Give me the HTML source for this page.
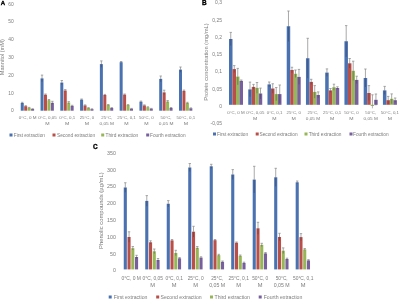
<!DOCTYPE html>
<html><head><meta charset="utf-8"><style>
html,body{margin:0;padding:0;background:#fff;width:400px;height:299px;overflow:hidden}
svg{display:block;filter:blur(0.3px)}
text{font-family:"Liberation Sans", sans-serif}
</style></head><body>
<svg width="400" height="299" viewBox="0 0 400 299">
<rect width="400" height="299" fill="#fff"/>
<rect x="20.75" y="103.00" width="3.00" height="7.70" fill="#4A71B0"/>
<rect x="24.20" y="106.20" width="3.00" height="4.50" fill="#BA4F4A"/>
<rect x="27.65" y="107.80" width="3.00" height="2.90" fill="#97B657"/>
<rect x="31.10" y="109.00" width="3.00" height="1.70" fill="#78609E"/>
<line x1="22.25" y1="103.00" x2="22.25" y2="102.30" stroke="#939393" stroke-width="0.8" stroke-opacity="1"/>
<line x1="22.25" y1="103.70" x2="22.25" y2="103.00" stroke="#303040" stroke-width="0.8" stroke-opacity="0.45"/>
<line x1="21.05" y1="102.30" x2="23.45" y2="102.30" stroke="#939393" stroke-width="0.8" stroke-opacity="1"/>
<line x1="25.70" y1="106.20" x2="25.70" y2="105.70" stroke="#939393" stroke-width="0.8" stroke-opacity="1"/>
<line x1="25.70" y1="106.70" x2="25.70" y2="106.20" stroke="#303040" stroke-width="0.8" stroke-opacity="0.45"/>
<line x1="24.50" y1="105.70" x2="26.90" y2="105.70" stroke="#939393" stroke-width="0.8" stroke-opacity="1"/>
<line x1="29.15" y1="107.80" x2="29.15" y2="107.40" stroke="#939393" stroke-width="0.8" stroke-opacity="1"/>
<line x1="29.15" y1="108.20" x2="29.15" y2="107.80" stroke="#303040" stroke-width="0.8" stroke-opacity="0.45"/>
<line x1="27.95" y1="107.40" x2="30.35" y2="107.40" stroke="#939393" stroke-width="0.8" stroke-opacity="1"/>
<line x1="32.60" y1="109.00" x2="32.60" y2="108.70" stroke="#939393" stroke-width="0.8" stroke-opacity="1"/>
<line x1="32.60" y1="109.30" x2="32.60" y2="109.00" stroke="#303040" stroke-width="0.8" stroke-opacity="0.45"/>
<line x1="31.40" y1="108.70" x2="33.80" y2="108.70" stroke="#939393" stroke-width="0.8" stroke-opacity="1"/>
<rect x="40.53" y="78.40" width="3.00" height="32.30" fill="#4A71B0"/>
<rect x="43.98" y="94.70" width="3.00" height="16.00" fill="#BA4F4A"/>
<rect x="47.43" y="100.25" width="3.00" height="10.45" fill="#97B657"/>
<rect x="50.88" y="102.80" width="3.00" height="7.90" fill="#78609E"/>
<line x1="42.03" y1="78.40" x2="42.03" y2="75.10" stroke="#939393" stroke-width="0.8" stroke-opacity="1"/>
<line x1="42.03" y1="81.70" x2="42.03" y2="78.40" stroke="#303040" stroke-width="0.8" stroke-opacity="0.45"/>
<line x1="40.83" y1="75.10" x2="43.23" y2="75.10" stroke="#939393" stroke-width="0.8" stroke-opacity="1"/>
<line x1="45.48" y1="94.70" x2="45.48" y2="94.00" stroke="#939393" stroke-width="0.8" stroke-opacity="1"/>
<line x1="45.48" y1="95.40" x2="45.48" y2="94.70" stroke="#303040" stroke-width="0.8" stroke-opacity="0.45"/>
<line x1="44.28" y1="94.00" x2="46.68" y2="94.00" stroke="#939393" stroke-width="0.8" stroke-opacity="1"/>
<line x1="48.93" y1="100.25" x2="48.93" y2="99.50" stroke="#939393" stroke-width="0.8" stroke-opacity="1"/>
<line x1="48.93" y1="101.00" x2="48.93" y2="100.25" stroke="#303040" stroke-width="0.8" stroke-opacity="0.45"/>
<line x1="47.73" y1="99.50" x2="50.13" y2="99.50" stroke="#939393" stroke-width="0.8" stroke-opacity="1"/>
<line x1="52.38" y1="102.80" x2="52.38" y2="101.30" stroke="#939393" stroke-width="0.8" stroke-opacity="1"/>
<line x1="52.38" y1="104.30" x2="52.38" y2="102.80" stroke="#303040" stroke-width="0.8" stroke-opacity="0.45"/>
<line x1="51.18" y1="101.30" x2="53.58" y2="101.30" stroke="#939393" stroke-width="0.8" stroke-opacity="1"/>
<rect x="60.31" y="82.60" width="3.00" height="28.10" fill="#4A71B0"/>
<rect x="63.76" y="90.50" width="3.00" height="20.20" fill="#BA4F4A"/>
<rect x="67.21" y="102.60" width="3.00" height="8.10" fill="#97B657"/>
<rect x="70.66" y="105.90" width="3.00" height="4.80" fill="#78609E"/>
<line x1="61.81" y1="82.60" x2="61.81" y2="80.50" stroke="#939393" stroke-width="0.8" stroke-opacity="1"/>
<line x1="61.81" y1="84.70" x2="61.81" y2="82.60" stroke="#303040" stroke-width="0.8" stroke-opacity="0.45"/>
<line x1="60.61" y1="80.50" x2="63.01" y2="80.50" stroke="#939393" stroke-width="0.8" stroke-opacity="1"/>
<line x1="65.26" y1="90.50" x2="65.26" y2="89.60" stroke="#939393" stroke-width="0.8" stroke-opacity="1"/>
<line x1="65.26" y1="91.40" x2="65.26" y2="90.50" stroke="#303040" stroke-width="0.8" stroke-opacity="0.45"/>
<line x1="64.06" y1="89.60" x2="66.46" y2="89.60" stroke="#939393" stroke-width="0.8" stroke-opacity="1"/>
<line x1="68.71" y1="102.60" x2="68.71" y2="101.60" stroke="#939393" stroke-width="0.8" stroke-opacity="1"/>
<line x1="68.71" y1="103.60" x2="68.71" y2="102.60" stroke="#303040" stroke-width="0.8" stroke-opacity="0.45"/>
<line x1="67.51" y1="101.60" x2="69.91" y2="101.60" stroke="#939393" stroke-width="0.8" stroke-opacity="1"/>
<line x1="72.16" y1="105.90" x2="72.16" y2="105.30" stroke="#939393" stroke-width="0.8" stroke-opacity="1"/>
<line x1="72.16" y1="106.50" x2="72.16" y2="105.90" stroke="#303040" stroke-width="0.8" stroke-opacity="0.45"/>
<line x1="70.96" y1="105.30" x2="73.36" y2="105.30" stroke="#939393" stroke-width="0.8" stroke-opacity="1"/>
<rect x="80.09" y="99.60" width="3.00" height="11.10" fill="#4A71B0"/>
<rect x="83.54" y="105.40" width="3.00" height="5.30" fill="#BA4F4A"/>
<rect x="86.99" y="108.00" width="3.00" height="2.70" fill="#97B657"/>
<rect x="90.44" y="109.10" width="3.00" height="1.60" fill="#78609E"/>
<line x1="81.59" y1="99.60" x2="81.59" y2="99.00" stroke="#939393" stroke-width="0.8" stroke-opacity="1"/>
<line x1="81.59" y1="100.20" x2="81.59" y2="99.60" stroke="#303040" stroke-width="0.8" stroke-opacity="0.45"/>
<line x1="80.39" y1="99.00" x2="82.79" y2="99.00" stroke="#939393" stroke-width="0.8" stroke-opacity="1"/>
<line x1="85.04" y1="105.40" x2="85.04" y2="104.90" stroke="#939393" stroke-width="0.8" stroke-opacity="1"/>
<line x1="85.04" y1="105.90" x2="85.04" y2="105.40" stroke="#303040" stroke-width="0.8" stroke-opacity="0.45"/>
<line x1="83.84" y1="104.90" x2="86.24" y2="104.90" stroke="#939393" stroke-width="0.8" stroke-opacity="1"/>
<line x1="88.49" y1="108.00" x2="88.49" y2="107.60" stroke="#939393" stroke-width="0.8" stroke-opacity="1"/>
<line x1="88.49" y1="108.40" x2="88.49" y2="108.00" stroke="#303040" stroke-width="0.8" stroke-opacity="0.45"/>
<line x1="87.29" y1="107.60" x2="89.69" y2="107.60" stroke="#939393" stroke-width="0.8" stroke-opacity="1"/>
<line x1="91.94" y1="109.10" x2="91.94" y2="108.80" stroke="#939393" stroke-width="0.8" stroke-opacity="1"/>
<line x1="91.94" y1="109.40" x2="91.94" y2="109.10" stroke="#303040" stroke-width="0.8" stroke-opacity="0.45"/>
<line x1="90.74" y1="108.80" x2="93.14" y2="108.80" stroke="#939393" stroke-width="0.8" stroke-opacity="1"/>
<rect x="99.87" y="64.10" width="3.00" height="46.60" fill="#4A71B0"/>
<rect x="103.32" y="95.00" width="3.00" height="15.70" fill="#BA4F4A"/>
<rect x="106.77" y="105.00" width="3.00" height="5.70" fill="#97B657"/>
<rect x="110.22" y="108.00" width="3.00" height="2.70" fill="#78609E"/>
<line x1="101.37" y1="64.10" x2="101.37" y2="60.90" stroke="#939393" stroke-width="0.8" stroke-opacity="1"/>
<line x1="101.37" y1="67.30" x2="101.37" y2="64.10" stroke="#303040" stroke-width="0.8" stroke-opacity="0.45"/>
<line x1="100.17" y1="60.90" x2="102.57" y2="60.90" stroke="#939393" stroke-width="0.8" stroke-opacity="1"/>
<line x1="104.82" y1="95.00" x2="104.82" y2="94.40" stroke="#939393" stroke-width="0.8" stroke-opacity="1"/>
<line x1="104.82" y1="95.60" x2="104.82" y2="95.00" stroke="#303040" stroke-width="0.8" stroke-opacity="0.45"/>
<line x1="103.62" y1="94.40" x2="106.02" y2="94.40" stroke="#939393" stroke-width="0.8" stroke-opacity="1"/>
<line x1="108.27" y1="105.00" x2="108.27" y2="104.50" stroke="#939393" stroke-width="0.8" stroke-opacity="1"/>
<line x1="108.27" y1="105.50" x2="108.27" y2="105.00" stroke="#303040" stroke-width="0.8" stroke-opacity="0.45"/>
<line x1="107.07" y1="104.50" x2="109.47" y2="104.50" stroke="#939393" stroke-width="0.8" stroke-opacity="1"/>
<line x1="111.72" y1="108.00" x2="111.72" y2="107.60" stroke="#939393" stroke-width="0.8" stroke-opacity="1"/>
<line x1="111.72" y1="108.40" x2="111.72" y2="108.00" stroke="#303040" stroke-width="0.8" stroke-opacity="0.45"/>
<line x1="110.52" y1="107.60" x2="112.92" y2="107.60" stroke="#939393" stroke-width="0.8" stroke-opacity="1"/>
<rect x="119.65" y="62.20" width="3.00" height="48.50" fill="#4A71B0"/>
<rect x="123.10" y="94.60" width="3.00" height="16.10" fill="#BA4F4A"/>
<rect x="126.55" y="105.00" width="3.00" height="5.70" fill="#97B657"/>
<rect x="130.00" y="108.70" width="3.00" height="2.00" fill="#78609E"/>
<line x1="121.15" y1="62.20" x2="121.15" y2="61.50" stroke="#939393" stroke-width="0.8" stroke-opacity="1"/>
<line x1="121.15" y1="62.90" x2="121.15" y2="62.20" stroke="#303040" stroke-width="0.8" stroke-opacity="0.45"/>
<line x1="119.95" y1="61.50" x2="122.35" y2="61.50" stroke="#939393" stroke-width="0.8" stroke-opacity="1"/>
<line x1="124.60" y1="94.60" x2="124.60" y2="94.00" stroke="#939393" stroke-width="0.8" stroke-opacity="1"/>
<line x1="124.60" y1="95.20" x2="124.60" y2="94.60" stroke="#303040" stroke-width="0.8" stroke-opacity="0.45"/>
<line x1="123.40" y1="94.00" x2="125.80" y2="94.00" stroke="#939393" stroke-width="0.8" stroke-opacity="1"/>
<line x1="128.05" y1="105.00" x2="128.05" y2="104.60" stroke="#939393" stroke-width="0.8" stroke-opacity="1"/>
<line x1="128.05" y1="105.40" x2="128.05" y2="105.00" stroke="#303040" stroke-width="0.8" stroke-opacity="0.45"/>
<line x1="126.85" y1="104.60" x2="129.25" y2="104.60" stroke="#939393" stroke-width="0.8" stroke-opacity="1"/>
<line x1="131.50" y1="108.70" x2="131.50" y2="108.40" stroke="#939393" stroke-width="0.8" stroke-opacity="1"/>
<line x1="131.50" y1="109.00" x2="131.50" y2="108.70" stroke="#303040" stroke-width="0.8" stroke-opacity="0.45"/>
<line x1="130.30" y1="108.40" x2="132.70" y2="108.40" stroke="#939393" stroke-width="0.8" stroke-opacity="1"/>
<rect x="139.43" y="101.70" width="3.00" height="9.00" fill="#4A71B0"/>
<rect x="142.88" y="105.40" width="3.00" height="5.30" fill="#BA4F4A"/>
<rect x="146.33" y="107.20" width="3.00" height="3.50" fill="#97B657"/>
<rect x="149.78" y="108.70" width="3.00" height="2.00" fill="#78609E"/>
<line x1="140.93" y1="101.70" x2="140.93" y2="101.10" stroke="#939393" stroke-width="0.8" stroke-opacity="1"/>
<line x1="140.93" y1="102.30" x2="140.93" y2="101.70" stroke="#303040" stroke-width="0.8" stroke-opacity="0.45"/>
<line x1="139.73" y1="101.10" x2="142.13" y2="101.10" stroke="#939393" stroke-width="0.8" stroke-opacity="1"/>
<line x1="144.38" y1="105.40" x2="144.38" y2="104.90" stroke="#939393" stroke-width="0.8" stroke-opacity="1"/>
<line x1="144.38" y1="105.90" x2="144.38" y2="105.40" stroke="#303040" stroke-width="0.8" stroke-opacity="0.45"/>
<line x1="143.18" y1="104.90" x2="145.58" y2="104.90" stroke="#939393" stroke-width="0.8" stroke-opacity="1"/>
<line x1="147.83" y1="107.20" x2="147.83" y2="106.80" stroke="#939393" stroke-width="0.8" stroke-opacity="1"/>
<line x1="147.83" y1="107.60" x2="147.83" y2="107.20" stroke="#303040" stroke-width="0.8" stroke-opacity="0.45"/>
<line x1="146.63" y1="106.80" x2="149.03" y2="106.80" stroke="#939393" stroke-width="0.8" stroke-opacity="1"/>
<line x1="151.28" y1="108.70" x2="151.28" y2="108.40" stroke="#939393" stroke-width="0.8" stroke-opacity="1"/>
<line x1="151.28" y1="109.00" x2="151.28" y2="108.70" stroke="#303040" stroke-width="0.8" stroke-opacity="0.45"/>
<line x1="150.08" y1="108.40" x2="152.48" y2="108.40" stroke="#939393" stroke-width="0.8" stroke-opacity="1"/>
<rect x="159.21" y="78.90" width="3.00" height="31.80" fill="#4A71B0"/>
<rect x="162.66" y="92.40" width="3.00" height="18.30" fill="#BA4F4A"/>
<rect x="166.11" y="101.50" width="3.00" height="9.20" fill="#97B657"/>
<rect x="169.56" y="108.00" width="3.00" height="2.70" fill="#78609E"/>
<line x1="160.71" y1="78.90" x2="160.71" y2="76.00" stroke="#939393" stroke-width="0.8" stroke-opacity="1"/>
<line x1="160.71" y1="81.80" x2="160.71" y2="78.90" stroke="#303040" stroke-width="0.8" stroke-opacity="0.45"/>
<line x1="159.51" y1="76.00" x2="161.91" y2="76.00" stroke="#939393" stroke-width="0.8" stroke-opacity="1"/>
<line x1="164.16" y1="92.40" x2="164.16" y2="90.20" stroke="#939393" stroke-width="0.8" stroke-opacity="1"/>
<line x1="164.16" y1="94.60" x2="164.16" y2="92.40" stroke="#303040" stroke-width="0.8" stroke-opacity="0.45"/>
<line x1="162.96" y1="90.20" x2="165.36" y2="90.20" stroke="#939393" stroke-width="0.8" stroke-opacity="1"/>
<line x1="167.61" y1="101.50" x2="167.61" y2="100.50" stroke="#939393" stroke-width="0.8" stroke-opacity="1"/>
<line x1="167.61" y1="102.50" x2="167.61" y2="101.50" stroke="#303040" stroke-width="0.8" stroke-opacity="0.45"/>
<line x1="166.41" y1="100.50" x2="168.81" y2="100.50" stroke="#939393" stroke-width="0.8" stroke-opacity="1"/>
<line x1="171.06" y1="108.00" x2="171.06" y2="107.50" stroke="#939393" stroke-width="0.8" stroke-opacity="1"/>
<line x1="171.06" y1="108.50" x2="171.06" y2="108.00" stroke="#303040" stroke-width="0.8" stroke-opacity="0.45"/>
<line x1="169.86" y1="107.50" x2="172.26" y2="107.50" stroke="#939393" stroke-width="0.8" stroke-opacity="1"/>
<rect x="178.99" y="69.60" width="3.00" height="41.10" fill="#4A71B0"/>
<rect x="182.44" y="90.90" width="3.00" height="19.80" fill="#BA4F4A"/>
<rect x="185.89" y="103.00" width="3.00" height="7.70" fill="#97B657"/>
<rect x="189.34" y="108.25" width="3.00" height="2.45" fill="#78609E"/>
<line x1="180.49" y1="69.60" x2="180.49" y2="67.00" stroke="#939393" stroke-width="0.8" stroke-opacity="1"/>
<line x1="180.49" y1="72.20" x2="180.49" y2="69.60" stroke="#303040" stroke-width="0.8" stroke-opacity="0.45"/>
<line x1="179.29" y1="67.00" x2="181.69" y2="67.00" stroke="#939393" stroke-width="0.8" stroke-opacity="1"/>
<line x1="183.94" y1="90.90" x2="183.94" y2="90.10" stroke="#939393" stroke-width="0.8" stroke-opacity="1"/>
<line x1="183.94" y1="91.70" x2="183.94" y2="90.90" stroke="#303040" stroke-width="0.8" stroke-opacity="0.45"/>
<line x1="182.74" y1="90.10" x2="185.14" y2="90.10" stroke="#939393" stroke-width="0.8" stroke-opacity="1"/>
<line x1="187.39" y1="103.00" x2="187.39" y2="102.30" stroke="#939393" stroke-width="0.8" stroke-opacity="1"/>
<line x1="187.39" y1="103.70" x2="187.39" y2="103.00" stroke="#303040" stroke-width="0.8" stroke-opacity="0.45"/>
<line x1="186.19" y1="102.30" x2="188.59" y2="102.30" stroke="#939393" stroke-width="0.8" stroke-opacity="1"/>
<line x1="190.84" y1="108.25" x2="190.84" y2="107.90" stroke="#939393" stroke-width="0.8" stroke-opacity="1"/>
<line x1="190.84" y1="108.60" x2="190.84" y2="108.25" stroke="#303040" stroke-width="0.8" stroke-opacity="0.45"/>
<line x1="189.64" y1="107.90" x2="192.04" y2="107.90" stroke="#939393" stroke-width="0.8" stroke-opacity="1"/>
<text x="13.70" y="112.41" font-size="4.9" text-anchor="end" fill="#7c7c7c" font-weight="normal">0</text>
<text x="13.70" y="94.61" font-size="4.9" text-anchor="end" fill="#7c7c7c" font-weight="normal">10</text>
<text x="13.70" y="76.80" font-size="4.9" text-anchor="end" fill="#7c7c7c" font-weight="normal">20</text>
<text x="13.70" y="59.01" font-size="4.9" text-anchor="end" fill="#7c7c7c" font-weight="normal">30</text>
<text x="13.70" y="41.20" font-size="4.9" text-anchor="end" fill="#7c7c7c" font-weight="normal">40</text>
<text x="13.70" y="23.41" font-size="4.9" text-anchor="end" fill="#7c7c7c" font-weight="normal">50</text>
<text x="13.70" y="5.61" font-size="4.9" text-anchor="end" fill="#7c7c7c" font-weight="normal">60</text>
<text x="27.65" y="119.37" font-size="4.35" text-anchor="middle" fill="#7c7c7c" font-weight="normal" textLength="17.61" lengthAdjust="spacingAndGlyphs">0°C, 0 M</text>
<text x="47.43" y="119.37" font-size="4.35" text-anchor="middle" fill="#7c7c7c" font-weight="normal" textLength="18.54" lengthAdjust="spacingAndGlyphs">0°C, 0,05</text>
<text x="47.43" y="125.27" font-size="4.35" text-anchor="middle" fill="#7c7c7c" font-weight="normal" textLength="4.36" lengthAdjust="spacingAndGlyphs">M</text>
<text x="67.21" y="119.37" font-size="4.35" text-anchor="middle" fill="#7c7c7c" font-weight="normal" textLength="15.95" lengthAdjust="spacingAndGlyphs">0°C, 0,1</text>
<text x="67.21" y="125.27" font-size="4.35" text-anchor="middle" fill="#7c7c7c" font-weight="normal" textLength="4.36" lengthAdjust="spacingAndGlyphs">M</text>
<text x="86.99" y="119.37" font-size="4.35" text-anchor="middle" fill="#7c7c7c" font-weight="normal" textLength="14.68" lengthAdjust="spacingAndGlyphs">25°C, 0</text>
<text x="86.99" y="125.27" font-size="4.35" text-anchor="middle" fill="#7c7c7c" font-weight="normal" textLength="4.36" lengthAdjust="spacingAndGlyphs">M</text>
<text x="106.77" y="119.37" font-size="4.35" text-anchor="middle" fill="#7c7c7c" font-weight="normal" textLength="10.94" lengthAdjust="spacingAndGlyphs">25°C,</text>
<text x="106.77" y="125.27" font-size="4.35" text-anchor="middle" fill="#7c7c7c" font-weight="normal" textLength="14.55" lengthAdjust="spacingAndGlyphs">0,05 M</text>
<text x="126.55" y="119.37" font-size="4.35" text-anchor="middle" fill="#7c7c7c" font-weight="normal" textLength="18.54" lengthAdjust="spacingAndGlyphs">25°C, 0,1</text>
<text x="126.55" y="125.27" font-size="4.35" text-anchor="middle" fill="#7c7c7c" font-weight="normal" textLength="4.36" lengthAdjust="spacingAndGlyphs">M</text>
<text x="146.33" y="119.37" font-size="4.35" text-anchor="middle" fill="#7c7c7c" font-weight="normal" textLength="14.68" lengthAdjust="spacingAndGlyphs">50°C, 0</text>
<text x="146.33" y="125.27" font-size="4.35" text-anchor="middle" fill="#7c7c7c" font-weight="normal" textLength="4.36" lengthAdjust="spacingAndGlyphs">M</text>
<text x="166.11" y="119.37" font-size="4.35" text-anchor="middle" fill="#7c7c7c" font-weight="normal" textLength="10.94" lengthAdjust="spacingAndGlyphs">50°C,</text>
<text x="166.11" y="125.27" font-size="4.35" text-anchor="middle" fill="#7c7c7c" font-weight="normal" textLength="14.55" lengthAdjust="spacingAndGlyphs">0,05 M</text>
<text x="185.89" y="119.37" font-size="4.35" text-anchor="middle" fill="#7c7c7c" font-weight="normal" textLength="18.54" lengthAdjust="spacingAndGlyphs">50°C, 0,1</text>
<text x="185.89" y="125.27" font-size="4.35" text-anchor="middle" fill="#7c7c7c" font-weight="normal" textLength="4.36" lengthAdjust="spacingAndGlyphs">M</text>
<text x="4.10" y="57.20" font-size="5.65" text-anchor="middle" fill="#7c7c7c" font-weight="normal" transform="rotate(-90 4.10 57.20)">Mannitol (mM)</text>
<rect x="9.50" y="133.50" width="3.00" height="3.00" fill="#4A71B0"/>
<text x="13.80" y="136.71" font-size="4.75" text-anchor="start" fill="#7c7c7c" font-weight="normal">First extraction</text>
<rect x="52.50" y="133.50" width="3.00" height="3.00" fill="#BA4F4A"/>
<text x="57.00" y="136.71" font-size="4.75" text-anchor="start" fill="#7c7c7c" font-weight="normal">Second extraction</text>
<rect x="101.20" y="133.50" width="3.00" height="3.00" fill="#97B657"/>
<text x="105.50" y="136.71" font-size="4.75" text-anchor="start" fill="#7c7c7c" font-weight="normal">Third extraction</text>
<rect x="146.20" y="133.50" width="3.00" height="3.00" fill="#78609E"/>
<text x="150.00" y="136.71" font-size="4.75" text-anchor="start" fill="#7c7c7c" font-weight="normal">Fourth extraction</text>
<text x="0.70" y="5.00" font-size="6.0" text-anchor="start" fill="#000" font-weight="bold" stroke="#000" stroke-width="0.35">A</text>
<rect x="229.00" y="39.00" width="3.50" height="65.80" fill="#4A71B0"/>
<rect x="232.50" y="69.10" width="3.50" height="35.70" fill="#BA4F4A"/>
<rect x="236.00" y="76.60" width="3.50" height="28.20" fill="#97B657"/>
<rect x="239.50" y="80.90" width="3.50" height="23.90" fill="#78609E"/>
<line x1="230.75" y1="39.00" x2="230.75" y2="32.40" stroke="#939393" stroke-width="0.8" stroke-opacity="1"/>
<line x1="230.75" y1="45.60" x2="230.75" y2="39.00" stroke="#303040" stroke-width="0.8" stroke-opacity="0.45"/>
<line x1="229.55" y1="32.40" x2="231.95" y2="32.40" stroke="#939393" stroke-width="0.8" stroke-opacity="1"/>
<line x1="234.25" y1="69.10" x2="234.25" y2="65.60" stroke="#939393" stroke-width="0.8" stroke-opacity="1"/>
<line x1="234.25" y1="72.60" x2="234.25" y2="69.10" stroke="#303040" stroke-width="0.8" stroke-opacity="0.45"/>
<line x1="233.05" y1="65.60" x2="235.45" y2="65.60" stroke="#939393" stroke-width="0.8" stroke-opacity="1"/>
<line x1="237.75" y1="76.60" x2="237.75" y2="68.40" stroke="#939393" stroke-width="0.8" stroke-opacity="1"/>
<line x1="237.75" y1="84.80" x2="237.75" y2="76.60" stroke="#303040" stroke-width="0.8" stroke-opacity="0.45"/>
<line x1="236.55" y1="68.40" x2="238.95" y2="68.40" stroke="#939393" stroke-width="0.8" stroke-opacity="1"/>
<line x1="241.25" y1="80.90" x2="241.25" y2="80.00" stroke="#939393" stroke-width="0.8" stroke-opacity="1"/>
<line x1="241.25" y1="81.80" x2="241.25" y2="80.90" stroke="#303040" stroke-width="0.8" stroke-opacity="0.45"/>
<line x1="240.05" y1="80.00" x2="242.45" y2="80.00" stroke="#939393" stroke-width="0.8" stroke-opacity="1"/>
<rect x="248.24" y="89.40" width="3.50" height="15.40" fill="#4A71B0"/>
<rect x="251.74" y="86.90" width="3.50" height="17.90" fill="#BA4F4A"/>
<rect x="255.24" y="87.90" width="3.50" height="16.90" fill="#97B657"/>
<rect x="258.74" y="93.50" width="3.50" height="11.30" fill="#78609E"/>
<line x1="249.99" y1="89.40" x2="249.99" y2="82.10" stroke="#939393" stroke-width="0.8" stroke-opacity="1"/>
<line x1="249.99" y1="96.70" x2="249.99" y2="89.40" stroke="#303040" stroke-width="0.8" stroke-opacity="0.45"/>
<line x1="248.79" y1="82.10" x2="251.19" y2="82.10" stroke="#939393" stroke-width="0.8" stroke-opacity="1"/>
<line x1="253.49" y1="86.90" x2="253.49" y2="84.40" stroke="#939393" stroke-width="0.8" stroke-opacity="1"/>
<line x1="253.49" y1="89.40" x2="253.49" y2="86.90" stroke="#303040" stroke-width="0.8" stroke-opacity="0.45"/>
<line x1="252.29" y1="84.40" x2="254.69" y2="84.40" stroke="#939393" stroke-width="0.8" stroke-opacity="1"/>
<line x1="256.99" y1="87.90" x2="256.99" y2="82.50" stroke="#939393" stroke-width="0.8" stroke-opacity="1"/>
<line x1="256.99" y1="93.30" x2="256.99" y2="87.90" stroke="#303040" stroke-width="0.8" stroke-opacity="0.45"/>
<line x1="255.79" y1="82.50" x2="258.19" y2="82.50" stroke="#939393" stroke-width="0.8" stroke-opacity="1"/>
<line x1="260.49" y1="93.50" x2="260.49" y2="88.10" stroke="#939393" stroke-width="0.8" stroke-opacity="1"/>
<line x1="260.49" y1="98.90" x2="260.49" y2="93.50" stroke="#303040" stroke-width="0.8" stroke-opacity="0.45"/>
<line x1="259.29" y1="88.10" x2="261.69" y2="88.10" stroke="#939393" stroke-width="0.8" stroke-opacity="1"/>
<rect x="267.48" y="84.40" width="3.50" height="20.40" fill="#4A71B0"/>
<rect x="270.98" y="88.50" width="3.50" height="16.30" fill="#BA4F4A"/>
<rect x="274.48" y="94.10" width="3.50" height="10.70" fill="#97B657"/>
<rect x="277.98" y="94.10" width="3.50" height="10.70" fill="#78609E"/>
<line x1="269.23" y1="84.40" x2="269.23" y2="82.00" stroke="#939393" stroke-width="0.8" stroke-opacity="1"/>
<line x1="269.23" y1="86.80" x2="269.23" y2="84.40" stroke="#303040" stroke-width="0.8" stroke-opacity="0.45"/>
<line x1="268.03" y1="82.00" x2="270.43" y2="82.00" stroke="#939393" stroke-width="0.8" stroke-opacity="1"/>
<line x1="272.73" y1="88.50" x2="272.73" y2="83.75" stroke="#939393" stroke-width="0.8" stroke-opacity="1"/>
<line x1="272.73" y1="93.25" x2="272.73" y2="88.50" stroke="#303040" stroke-width="0.8" stroke-opacity="0.45"/>
<line x1="271.53" y1="83.75" x2="273.93" y2="83.75" stroke="#939393" stroke-width="0.8" stroke-opacity="1"/>
<line x1="276.23" y1="94.10" x2="276.23" y2="87.50" stroke="#939393" stroke-width="0.8" stroke-opacity="1"/>
<line x1="276.23" y1="100.70" x2="276.23" y2="94.10" stroke="#303040" stroke-width="0.8" stroke-opacity="0.45"/>
<line x1="275.03" y1="87.50" x2="277.43" y2="87.50" stroke="#939393" stroke-width="0.8" stroke-opacity="1"/>
<line x1="279.73" y1="94.10" x2="279.73" y2="85.00" stroke="#939393" stroke-width="0.8" stroke-opacity="1"/>
<line x1="279.73" y1="103.20" x2="279.73" y2="94.10" stroke="#303040" stroke-width="0.8" stroke-opacity="0.45"/>
<line x1="278.53" y1="85.00" x2="280.93" y2="85.00" stroke="#939393" stroke-width="0.8" stroke-opacity="1"/>
<rect x="286.72" y="26.25" width="3.50" height="78.55" fill="#4A71B0"/>
<rect x="290.22" y="70.00" width="3.50" height="34.80" fill="#BA4F4A"/>
<rect x="293.72" y="73.75" width="3.50" height="31.05" fill="#97B657"/>
<rect x="297.22" y="76.90" width="3.50" height="27.90" fill="#78609E"/>
<line x1="288.47" y1="26.25" x2="288.47" y2="11.00" stroke="#939393" stroke-width="0.8" stroke-opacity="1"/>
<line x1="288.47" y1="41.50" x2="288.47" y2="26.25" stroke="#303040" stroke-width="0.8" stroke-opacity="0.45"/>
<line x1="287.27" y1="11.00" x2="289.67" y2="11.00" stroke="#939393" stroke-width="0.8" stroke-opacity="1"/>
<line x1="291.97" y1="70.00" x2="291.97" y2="67.25" stroke="#939393" stroke-width="0.8" stroke-opacity="1"/>
<line x1="291.97" y1="72.75" x2="291.97" y2="70.00" stroke="#303040" stroke-width="0.8" stroke-opacity="0.45"/>
<line x1="290.77" y1="67.25" x2="293.17" y2="67.25" stroke="#939393" stroke-width="0.8" stroke-opacity="1"/>
<line x1="295.47" y1="73.75" x2="295.47" y2="70.00" stroke="#939393" stroke-width="0.8" stroke-opacity="1"/>
<line x1="295.47" y1="77.50" x2="295.47" y2="73.75" stroke="#303040" stroke-width="0.8" stroke-opacity="0.45"/>
<line x1="294.27" y1="70.00" x2="296.67" y2="70.00" stroke="#939393" stroke-width="0.8" stroke-opacity="1"/>
<line x1="298.97" y1="76.90" x2="298.97" y2="69.40" stroke="#939393" stroke-width="0.8" stroke-opacity="1"/>
<line x1="298.97" y1="84.40" x2="298.97" y2="76.90" stroke="#303040" stroke-width="0.8" stroke-opacity="0.45"/>
<line x1="297.77" y1="69.40" x2="300.17" y2="69.40" stroke="#939393" stroke-width="0.8" stroke-opacity="1"/>
<rect x="305.96" y="58.25" width="3.50" height="46.55" fill="#4A71B0"/>
<rect x="309.46" y="81.90" width="3.50" height="22.90" fill="#BA4F4A"/>
<rect x="312.96" y="91.90" width="3.50" height="12.90" fill="#97B657"/>
<rect x="316.46" y="95.00" width="3.50" height="9.80" fill="#78609E"/>
<line x1="307.71" y1="58.25" x2="307.71" y2="38.30" stroke="#939393" stroke-width="0.8" stroke-opacity="1"/>
<line x1="307.71" y1="78.20" x2="307.71" y2="58.25" stroke="#303040" stroke-width="0.8" stroke-opacity="0.45"/>
<line x1="306.51" y1="38.30" x2="308.91" y2="38.30" stroke="#939393" stroke-width="0.8" stroke-opacity="1"/>
<line x1="311.21" y1="81.90" x2="311.21" y2="79.30" stroke="#939393" stroke-width="0.8" stroke-opacity="1"/>
<line x1="311.21" y1="84.50" x2="311.21" y2="81.90" stroke="#303040" stroke-width="0.8" stroke-opacity="0.45"/>
<line x1="310.01" y1="79.30" x2="312.41" y2="79.30" stroke="#939393" stroke-width="0.8" stroke-opacity="1"/>
<line x1="314.71" y1="91.90" x2="314.71" y2="85.60" stroke="#939393" stroke-width="0.8" stroke-opacity="1"/>
<line x1="314.71" y1="98.20" x2="314.71" y2="91.90" stroke="#303040" stroke-width="0.8" stroke-opacity="0.45"/>
<line x1="313.51" y1="85.60" x2="315.91" y2="85.60" stroke="#939393" stroke-width="0.8" stroke-opacity="1"/>
<line x1="318.21" y1="95.00" x2="318.21" y2="91.90" stroke="#939393" stroke-width="0.8" stroke-opacity="1"/>
<line x1="318.21" y1="98.10" x2="318.21" y2="95.00" stroke="#303040" stroke-width="0.8" stroke-opacity="0.45"/>
<line x1="317.01" y1="91.90" x2="319.41" y2="91.90" stroke="#939393" stroke-width="0.8" stroke-opacity="1"/>
<rect x="325.20" y="72.60" width="3.50" height="32.20" fill="#4A71B0"/>
<rect x="328.70" y="90.40" width="3.50" height="14.40" fill="#BA4F4A"/>
<rect x="332.20" y="87.30" width="3.50" height="17.50" fill="#97B657"/>
<rect x="335.70" y="88.00" width="3.50" height="16.80" fill="#78609E"/>
<line x1="326.95" y1="72.60" x2="326.95" y2="68.90" stroke="#939393" stroke-width="0.8" stroke-opacity="1"/>
<line x1="326.95" y1="76.30" x2="326.95" y2="72.60" stroke="#303040" stroke-width="0.8" stroke-opacity="0.45"/>
<line x1="325.75" y1="68.90" x2="328.15" y2="68.90" stroke="#939393" stroke-width="0.8" stroke-opacity="1"/>
<line x1="330.45" y1="90.40" x2="330.45" y2="88.50" stroke="#939393" stroke-width="0.8" stroke-opacity="1"/>
<line x1="330.45" y1="92.30" x2="330.45" y2="90.40" stroke="#303040" stroke-width="0.8" stroke-opacity="0.45"/>
<line x1="329.25" y1="88.50" x2="331.65" y2="88.50" stroke="#939393" stroke-width="0.8" stroke-opacity="1"/>
<line x1="333.95" y1="87.30" x2="333.95" y2="84.20" stroke="#939393" stroke-width="0.8" stroke-opacity="1"/>
<line x1="333.95" y1="90.40" x2="333.95" y2="87.30" stroke="#303040" stroke-width="0.8" stroke-opacity="0.45"/>
<line x1="332.75" y1="84.20" x2="335.15" y2="84.20" stroke="#939393" stroke-width="0.8" stroke-opacity="1"/>
<line x1="337.45" y1="88.00" x2="337.45" y2="86.80" stroke="#939393" stroke-width="0.8" stroke-opacity="1"/>
<line x1="337.45" y1="89.20" x2="337.45" y2="88.00" stroke="#303040" stroke-width="0.8" stroke-opacity="0.45"/>
<line x1="336.25" y1="86.80" x2="338.65" y2="86.80" stroke="#939393" stroke-width="0.8" stroke-opacity="1"/>
<rect x="344.44" y="41.25" width="3.50" height="63.55" fill="#4A71B0"/>
<rect x="347.94" y="63.30" width="3.50" height="41.50" fill="#BA4F4A"/>
<rect x="351.44" y="70.80" width="3.50" height="34.00" fill="#97B657"/>
<rect x="354.94" y="79.90" width="3.50" height="24.90" fill="#78609E"/>
<line x1="346.19" y1="41.25" x2="346.19" y2="25.60" stroke="#939393" stroke-width="0.8" stroke-opacity="1"/>
<line x1="346.19" y1="56.90" x2="346.19" y2="41.25" stroke="#303040" stroke-width="0.8" stroke-opacity="0.45"/>
<line x1="344.99" y1="25.60" x2="347.39" y2="25.60" stroke="#939393" stroke-width="0.8" stroke-opacity="1"/>
<line x1="349.69" y1="63.30" x2="349.69" y2="58.50" stroke="#939393" stroke-width="0.8" stroke-opacity="1"/>
<line x1="349.69" y1="68.10" x2="349.69" y2="63.30" stroke="#303040" stroke-width="0.8" stroke-opacity="0.45"/>
<line x1="348.49" y1="58.50" x2="350.89" y2="58.50" stroke="#939393" stroke-width="0.8" stroke-opacity="1"/>
<line x1="353.19" y1="70.80" x2="353.19" y2="61.20" stroke="#939393" stroke-width="0.8" stroke-opacity="1"/>
<line x1="353.19" y1="80.40" x2="353.19" y2="70.80" stroke="#303040" stroke-width="0.8" stroke-opacity="0.45"/>
<line x1="351.99" y1="61.20" x2="354.39" y2="61.20" stroke="#939393" stroke-width="0.8" stroke-opacity="1"/>
<line x1="356.69" y1="79.90" x2="356.69" y2="76.20" stroke="#939393" stroke-width="0.8" stroke-opacity="1"/>
<line x1="356.69" y1="83.60" x2="356.69" y2="79.90" stroke="#303040" stroke-width="0.8" stroke-opacity="0.45"/>
<line x1="355.49" y1="76.20" x2="357.89" y2="76.20" stroke="#939393" stroke-width="0.8" stroke-opacity="1"/>
<rect x="363.68" y="78.00" width="3.50" height="26.80" fill="#4A71B0"/>
<rect x="367.18" y="93.00" width="3.50" height="11.80" fill="#BA4F4A"/>
<rect x="370.68" y="104.80" width="3.50" height="1.20" fill="#97B657"/>
<rect x="374.18" y="99.80" width="3.50" height="5.00" fill="#78609E"/>
<line x1="365.43" y1="78.00" x2="365.43" y2="69.00" stroke="#939393" stroke-width="0.8" stroke-opacity="1"/>
<line x1="365.43" y1="87.00" x2="365.43" y2="78.00" stroke="#303040" stroke-width="0.8" stroke-opacity="0.45"/>
<line x1="364.23" y1="69.00" x2="366.63" y2="69.00" stroke="#939393" stroke-width="0.8" stroke-opacity="1"/>
<line x1="368.93" y1="93.00" x2="368.93" y2="85.60" stroke="#939393" stroke-width="0.8" stroke-opacity="1"/>
<line x1="368.93" y1="100.40" x2="368.93" y2="93.00" stroke="#303040" stroke-width="0.8" stroke-opacity="0.45"/>
<line x1="367.73" y1="85.60" x2="370.13" y2="85.60" stroke="#939393" stroke-width="0.8" stroke-opacity="1"/>
<line x1="372.43" y1="106.00" x2="372.43" y2="94.80" stroke="#939393" stroke-width="0.8" stroke-opacity="1"/>
<line x1="372.43" y1="108.30" x2="372.43" y2="106.00" stroke="#303040" stroke-width="0.8" stroke-opacity="0.45"/>
<line x1="371.23" y1="94.80" x2="373.63" y2="94.80" stroke="#939393" stroke-width="0.8" stroke-opacity="1"/>
<line x1="375.93" y1="99.80" x2="375.93" y2="94.00" stroke="#939393" stroke-width="0.8" stroke-opacity="1"/>
<line x1="375.93" y1="105.60" x2="375.93" y2="99.80" stroke="#303040" stroke-width="0.8" stroke-opacity="0.45"/>
<line x1="374.73" y1="94.00" x2="377.13" y2="94.00" stroke="#939393" stroke-width="0.8" stroke-opacity="1"/>
<rect x="382.92" y="90.40" width="3.50" height="14.40" fill="#4A71B0"/>
<rect x="386.42" y="100.20" width="3.50" height="4.60" fill="#BA4F4A"/>
<rect x="389.92" y="98.80" width="3.50" height="6.00" fill="#97B657"/>
<rect x="393.42" y="100.20" width="3.50" height="4.60" fill="#78609E"/>
<line x1="384.67" y1="90.40" x2="384.67" y2="86.40" stroke="#939393" stroke-width="0.8" stroke-opacity="1"/>
<line x1="384.67" y1="94.40" x2="384.67" y2="90.40" stroke="#303040" stroke-width="0.8" stroke-opacity="0.45"/>
<line x1="383.47" y1="86.40" x2="385.87" y2="86.40" stroke="#939393" stroke-width="0.8" stroke-opacity="1"/>
<line x1="388.17" y1="100.20" x2="388.17" y2="96.40" stroke="#939393" stroke-width="0.8" stroke-opacity="1"/>
<line x1="388.17" y1="104.00" x2="388.17" y2="100.20" stroke="#303040" stroke-width="0.8" stroke-opacity="0.45"/>
<line x1="386.97" y1="96.40" x2="389.37" y2="96.40" stroke="#939393" stroke-width="0.8" stroke-opacity="1"/>
<line x1="391.67" y1="98.80" x2="391.67" y2="93.90" stroke="#939393" stroke-width="0.8" stroke-opacity="1"/>
<line x1="391.67" y1="103.70" x2="391.67" y2="98.80" stroke="#303040" stroke-width="0.8" stroke-opacity="0.45"/>
<line x1="390.47" y1="93.90" x2="392.87" y2="93.90" stroke="#939393" stroke-width="0.8" stroke-opacity="1"/>
<line x1="395.17" y1="100.20" x2="395.17" y2="98.00" stroke="#939393" stroke-width="0.8" stroke-opacity="1"/>
<line x1="395.17" y1="102.40" x2="395.17" y2="100.20" stroke="#303040" stroke-width="0.8" stroke-opacity="0.45"/>
<line x1="393.97" y1="98.00" x2="396.37" y2="98.00" stroke="#939393" stroke-width="0.8" stroke-opacity="1"/>
<text x="222.00" y="125.20" font-size="5.0" text-anchor="end" fill="#7c7c7c" font-weight="normal">-0,05</text>
<text x="222.00" y="107.95" font-size="5.0" text-anchor="end" fill="#7c7c7c" font-weight="normal">0</text>
<text x="222.00" y="90.70" font-size="5.0" text-anchor="end" fill="#7c7c7c" font-weight="normal">0,05</text>
<text x="222.00" y="73.45" font-size="5.0" text-anchor="end" fill="#7c7c7c" font-weight="normal">0,1</text>
<text x="222.00" y="56.20" font-size="5.0" text-anchor="end" fill="#7c7c7c" font-weight="normal">0,15</text>
<text x="222.00" y="38.95" font-size="5.0" text-anchor="end" fill="#7c7c7c" font-weight="normal">0,2</text>
<text x="222.00" y="21.70" font-size="5.0" text-anchor="end" fill="#7c7c7c" font-weight="normal">0,25</text>
<text x="222.00" y="4.45" font-size="5.0" text-anchor="end" fill="#7c7c7c" font-weight="normal">0,3</text>
<text x="236.00" y="113.97" font-size="4.35" text-anchor="middle" fill="#7c7c7c" font-weight="normal" textLength="17.26" lengthAdjust="spacingAndGlyphs">0°C, 0 M</text>
<text x="255.24" y="113.97" font-size="4.35" text-anchor="middle" fill="#7c7c7c" font-weight="normal" textLength="18.18" lengthAdjust="spacingAndGlyphs">0°C, 0,05</text>
<text x="255.24" y="119.97" font-size="4.35" text-anchor="middle" fill="#7c7c7c" font-weight="normal" textLength="4.28" lengthAdjust="spacingAndGlyphs">M</text>
<text x="274.48" y="113.97" font-size="4.35" text-anchor="middle" fill="#7c7c7c" font-weight="normal" textLength="15.64" lengthAdjust="spacingAndGlyphs">0°C, 0,1</text>
<text x="274.48" y="119.97" font-size="4.35" text-anchor="middle" fill="#7c7c7c" font-weight="normal" textLength="4.28" lengthAdjust="spacingAndGlyphs">M</text>
<text x="293.72" y="113.97" font-size="4.35" text-anchor="middle" fill="#7c7c7c" font-weight="normal" textLength="14.39" lengthAdjust="spacingAndGlyphs">25°C, 0</text>
<text x="293.72" y="119.97" font-size="4.35" text-anchor="middle" fill="#7c7c7c" font-weight="normal" textLength="4.28" lengthAdjust="spacingAndGlyphs">M</text>
<text x="312.96" y="113.97" font-size="4.35" text-anchor="middle" fill="#7c7c7c" font-weight="normal" textLength="10.72" lengthAdjust="spacingAndGlyphs">25°C,</text>
<text x="312.96" y="119.97" font-size="4.35" text-anchor="middle" fill="#7c7c7c" font-weight="normal" textLength="14.26" lengthAdjust="spacingAndGlyphs">0,05 M</text>
<text x="332.20" y="113.97" font-size="4.35" text-anchor="middle" fill="#7c7c7c" font-weight="normal" textLength="18.18" lengthAdjust="spacingAndGlyphs">25°C, 0,1</text>
<text x="332.20" y="119.97" font-size="4.35" text-anchor="middle" fill="#7c7c7c" font-weight="normal" textLength="4.28" lengthAdjust="spacingAndGlyphs">M</text>
<text x="351.44" y="113.97" font-size="4.35" text-anchor="middle" fill="#7c7c7c" font-weight="normal" textLength="14.39" lengthAdjust="spacingAndGlyphs">50°C, 0</text>
<text x="351.44" y="119.97" font-size="4.35" text-anchor="middle" fill="#7c7c7c" font-weight="normal" textLength="4.28" lengthAdjust="spacingAndGlyphs">M</text>
<text x="370.68" y="113.97" font-size="4.35" text-anchor="middle" fill="#7c7c7c" font-weight="normal" textLength="10.72" lengthAdjust="spacingAndGlyphs">50°C,</text>
<text x="370.68" y="119.97" font-size="4.35" text-anchor="middle" fill="#7c7c7c" font-weight="normal" textLength="14.26" lengthAdjust="spacingAndGlyphs">0,05 M</text>
<text x="389.92" y="113.97" font-size="4.35" text-anchor="middle" fill="#7c7c7c" font-weight="normal" textLength="18.18" lengthAdjust="spacingAndGlyphs">50°C, 0,1</text>
<text x="389.92" y="119.97" font-size="4.35" text-anchor="middle" fill="#7c7c7c" font-weight="normal" textLength="4.28" lengthAdjust="spacingAndGlyphs">M</text>
<text x="207.90" y="62.00" font-size="5.75" text-anchor="middle" fill="#7c7c7c" font-weight="normal" transform="rotate(-90 207.90 62.00)">Protein concentration (mg/mL)</text>
<rect x="213.00" y="132.50" width="3.00" height="3.00" fill="#4A71B0"/>
<text x="217.00" y="135.71" font-size="4.75" text-anchor="start" fill="#7c7c7c" font-weight="normal">First extraction</text>
<rect x="255.70" y="132.50" width="3.00" height="3.00" fill="#BA4F4A"/>
<text x="259.50" y="135.71" font-size="4.75" text-anchor="start" fill="#7c7c7c" font-weight="normal">Second extraction</text>
<rect x="304.50" y="132.50" width="3.00" height="3.00" fill="#97B657"/>
<text x="308.70" y="135.71" font-size="4.75" text-anchor="start" fill="#7c7c7c" font-weight="normal">Third extraction</text>
<rect x="349.50" y="132.50" width="3.00" height="3.00" fill="#78609E"/>
<text x="353.00" y="135.71" font-size="4.75" text-anchor="start" fill="#7c7c7c" font-weight="normal">Fourth extraction</text>
<text x="201.90" y="4.90" font-size="6.4" text-anchor="start" fill="#000" font-weight="bold" stroke="#000" stroke-width="0.35">B</text>
<rect x="123.75" y="187.50" width="3.10" height="81.90" fill="#4A71B0"/>
<rect x="127.50" y="237.00" width="3.10" height="32.40" fill="#BA4F4A"/>
<rect x="131.25" y="248.20" width="3.10" height="21.20" fill="#97B657"/>
<rect x="135.00" y="257.00" width="3.10" height="12.40" fill="#78609E"/>
<line x1="125.30" y1="187.50" x2="125.30" y2="182.75" stroke="#939393" stroke-width="0.8" stroke-opacity="1"/>
<line x1="125.30" y1="192.25" x2="125.30" y2="187.50" stroke="#303040" stroke-width="0.8" stroke-opacity="0.45"/>
<line x1="124.10" y1="182.75" x2="126.50" y2="182.75" stroke="#939393" stroke-width="0.8" stroke-opacity="1"/>
<line x1="129.05" y1="237.00" x2="129.05" y2="231.80" stroke="#939393" stroke-width="0.8" stroke-opacity="1"/>
<line x1="129.05" y1="242.20" x2="129.05" y2="237.00" stroke="#303040" stroke-width="0.8" stroke-opacity="0.45"/>
<line x1="127.85" y1="231.80" x2="130.25" y2="231.80" stroke="#939393" stroke-width="0.8" stroke-opacity="1"/>
<line x1="132.80" y1="248.20" x2="132.80" y2="246.50" stroke="#939393" stroke-width="0.8" stroke-opacity="1"/>
<line x1="132.80" y1="249.90" x2="132.80" y2="248.20" stroke="#303040" stroke-width="0.8" stroke-opacity="0.45"/>
<line x1="131.60" y1="246.50" x2="134.00" y2="246.50" stroke="#939393" stroke-width="0.8" stroke-opacity="1"/>
<line x1="136.55" y1="257.00" x2="136.55" y2="255.30" stroke="#939393" stroke-width="0.8" stroke-opacity="1"/>
<line x1="136.55" y1="258.70" x2="136.55" y2="257.00" stroke="#303040" stroke-width="0.8" stroke-opacity="0.45"/>
<line x1="135.35" y1="255.30" x2="137.75" y2="255.30" stroke="#939393" stroke-width="0.8" stroke-opacity="1"/>
<rect x="145.24" y="200.90" width="3.10" height="68.50" fill="#4A71B0"/>
<rect x="148.99" y="242.30" width="3.10" height="27.10" fill="#BA4F4A"/>
<rect x="152.74" y="251.30" width="3.10" height="18.10" fill="#97B657"/>
<rect x="156.49" y="260.00" width="3.10" height="9.40" fill="#78609E"/>
<line x1="146.79" y1="200.90" x2="146.79" y2="195.60" stroke="#939393" stroke-width="0.8" stroke-opacity="1"/>
<line x1="146.79" y1="206.20" x2="146.79" y2="200.90" stroke="#303040" stroke-width="0.8" stroke-opacity="0.45"/>
<line x1="145.59" y1="195.60" x2="147.99" y2="195.60" stroke="#939393" stroke-width="0.8" stroke-opacity="1"/>
<line x1="150.54" y1="242.30" x2="150.54" y2="240.80" stroke="#939393" stroke-width="0.8" stroke-opacity="1"/>
<line x1="150.54" y1="243.80" x2="150.54" y2="242.30" stroke="#303040" stroke-width="0.8" stroke-opacity="0.45"/>
<line x1="149.34" y1="240.80" x2="151.74" y2="240.80" stroke="#939393" stroke-width="0.8" stroke-opacity="1"/>
<line x1="154.29" y1="251.30" x2="154.29" y2="249.00" stroke="#939393" stroke-width="0.8" stroke-opacity="1"/>
<line x1="154.29" y1="253.60" x2="154.29" y2="251.30" stroke="#303040" stroke-width="0.8" stroke-opacity="0.45"/>
<line x1="153.09" y1="249.00" x2="155.49" y2="249.00" stroke="#939393" stroke-width="0.8" stroke-opacity="1"/>
<line x1="158.04" y1="260.00" x2="158.04" y2="258.50" stroke="#939393" stroke-width="0.8" stroke-opacity="1"/>
<line x1="158.04" y1="261.50" x2="158.04" y2="260.00" stroke="#303040" stroke-width="0.8" stroke-opacity="0.45"/>
<line x1="156.84" y1="258.50" x2="159.24" y2="258.50" stroke="#939393" stroke-width="0.8" stroke-opacity="1"/>
<rect x="166.73" y="203.75" width="3.10" height="65.65" fill="#4A71B0"/>
<rect x="170.48" y="240.40" width="3.10" height="29.00" fill="#BA4F4A"/>
<rect x="174.23" y="253.00" width="3.10" height="16.40" fill="#97B657"/>
<rect x="177.98" y="258.30" width="3.10" height="11.10" fill="#78609E"/>
<line x1="168.28" y1="203.75" x2="168.28" y2="200.60" stroke="#939393" stroke-width="0.8" stroke-opacity="1"/>
<line x1="168.28" y1="206.90" x2="168.28" y2="203.75" stroke="#303040" stroke-width="0.8" stroke-opacity="0.45"/>
<line x1="167.08" y1="200.60" x2="169.48" y2="200.60" stroke="#939393" stroke-width="0.8" stroke-opacity="1"/>
<line x1="172.03" y1="240.40" x2="172.03" y2="239.50" stroke="#939393" stroke-width="0.8" stroke-opacity="1"/>
<line x1="172.03" y1="241.30" x2="172.03" y2="240.40" stroke="#303040" stroke-width="0.8" stroke-opacity="0.45"/>
<line x1="170.83" y1="239.50" x2="173.23" y2="239.50" stroke="#939393" stroke-width="0.8" stroke-opacity="1"/>
<line x1="175.78" y1="253.00" x2="175.78" y2="250.30" stroke="#939393" stroke-width="0.8" stroke-opacity="1"/>
<line x1="175.78" y1="255.70" x2="175.78" y2="253.00" stroke="#303040" stroke-width="0.8" stroke-opacity="0.45"/>
<line x1="174.58" y1="250.30" x2="176.98" y2="250.30" stroke="#939393" stroke-width="0.8" stroke-opacity="1"/>
<line x1="179.53" y1="258.30" x2="179.53" y2="257.50" stroke="#939393" stroke-width="0.8" stroke-opacity="1"/>
<line x1="179.53" y1="259.10" x2="179.53" y2="258.30" stroke="#303040" stroke-width="0.8" stroke-opacity="0.45"/>
<line x1="178.33" y1="257.50" x2="180.73" y2="257.50" stroke="#939393" stroke-width="0.8" stroke-opacity="1"/>
<rect x="188.22" y="167.50" width="3.10" height="101.90" fill="#4A71B0"/>
<rect x="191.97" y="231.70" width="3.10" height="37.70" fill="#BA4F4A"/>
<rect x="195.72" y="247.80" width="3.10" height="21.60" fill="#97B657"/>
<rect x="199.47" y="257.60" width="3.10" height="11.80" fill="#78609E"/>
<line x1="189.77" y1="167.50" x2="189.77" y2="163.50" stroke="#939393" stroke-width="0.8" stroke-opacity="1"/>
<line x1="189.77" y1="171.50" x2="189.77" y2="167.50" stroke="#303040" stroke-width="0.8" stroke-opacity="0.45"/>
<line x1="188.57" y1="163.50" x2="190.97" y2="163.50" stroke="#939393" stroke-width="0.8" stroke-opacity="1"/>
<line x1="193.52" y1="231.70" x2="193.52" y2="226.30" stroke="#939393" stroke-width="0.8" stroke-opacity="1"/>
<line x1="193.52" y1="237.10" x2="193.52" y2="231.70" stroke="#303040" stroke-width="0.8" stroke-opacity="0.45"/>
<line x1="192.32" y1="226.30" x2="194.72" y2="226.30" stroke="#939393" stroke-width="0.8" stroke-opacity="1"/>
<line x1="197.27" y1="247.80" x2="197.27" y2="246.50" stroke="#939393" stroke-width="0.8" stroke-opacity="1"/>
<line x1="197.27" y1="249.10" x2="197.27" y2="247.80" stroke="#303040" stroke-width="0.8" stroke-opacity="0.45"/>
<line x1="196.07" y1="246.50" x2="198.47" y2="246.50" stroke="#939393" stroke-width="0.8" stroke-opacity="1"/>
<line x1="201.02" y1="257.60" x2="201.02" y2="256.80" stroke="#939393" stroke-width="0.8" stroke-opacity="1"/>
<line x1="201.02" y1="258.40" x2="201.02" y2="257.60" stroke="#303040" stroke-width="0.8" stroke-opacity="0.45"/>
<line x1="199.82" y1="256.80" x2="202.22" y2="256.80" stroke="#939393" stroke-width="0.8" stroke-opacity="1"/>
<rect x="209.71" y="166.30" width="3.10" height="103.10" fill="#4A71B0"/>
<rect x="213.46" y="240.20" width="3.10" height="29.20" fill="#BA4F4A"/>
<rect x="217.21" y="255.20" width="3.10" height="14.20" fill="#97B657"/>
<rect x="220.96" y="261.80" width="3.10" height="7.60" fill="#78609E"/>
<line x1="211.26" y1="166.30" x2="211.26" y2="164.30" stroke="#939393" stroke-width="0.8" stroke-opacity="1"/>
<line x1="211.26" y1="168.30" x2="211.26" y2="166.30" stroke="#303040" stroke-width="0.8" stroke-opacity="0.45"/>
<line x1="210.06" y1="164.30" x2="212.46" y2="164.30" stroke="#939393" stroke-width="0.8" stroke-opacity="1"/>
<line x1="215.01" y1="240.20" x2="215.01" y2="239.50" stroke="#939393" stroke-width="0.8" stroke-opacity="1"/>
<line x1="215.01" y1="240.90" x2="215.01" y2="240.20" stroke="#303040" stroke-width="0.8" stroke-opacity="0.45"/>
<line x1="213.81" y1="239.50" x2="216.21" y2="239.50" stroke="#939393" stroke-width="0.8" stroke-opacity="1"/>
<line x1="218.76" y1="255.20" x2="218.76" y2="254.30" stroke="#939393" stroke-width="0.8" stroke-opacity="1"/>
<line x1="218.76" y1="256.10" x2="218.76" y2="255.20" stroke="#303040" stroke-width="0.8" stroke-opacity="0.45"/>
<line x1="217.56" y1="254.30" x2="219.96" y2="254.30" stroke="#939393" stroke-width="0.8" stroke-opacity="1"/>
<line x1="222.51" y1="261.80" x2="222.51" y2="261.00" stroke="#939393" stroke-width="0.8" stroke-opacity="1"/>
<line x1="222.51" y1="262.60" x2="222.51" y2="261.80" stroke="#303040" stroke-width="0.8" stroke-opacity="0.45"/>
<line x1="221.31" y1="261.00" x2="223.71" y2="261.00" stroke="#939393" stroke-width="0.8" stroke-opacity="1"/>
<rect x="231.20" y="174.50" width="3.10" height="94.90" fill="#4A71B0"/>
<rect x="234.95" y="242.70" width="3.10" height="26.70" fill="#BA4F4A"/>
<rect x="238.70" y="255.80" width="3.10" height="13.60" fill="#97B657"/>
<rect x="242.45" y="262.90" width="3.10" height="6.50" fill="#78609E"/>
<line x1="232.75" y1="174.50" x2="232.75" y2="169.60" stroke="#939393" stroke-width="0.8" stroke-opacity="1"/>
<line x1="232.75" y1="179.40" x2="232.75" y2="174.50" stroke="#303040" stroke-width="0.8" stroke-opacity="0.45"/>
<line x1="231.55" y1="169.60" x2="233.95" y2="169.60" stroke="#939393" stroke-width="0.8" stroke-opacity="1"/>
<line x1="236.50" y1="242.70" x2="236.50" y2="242.00" stroke="#939393" stroke-width="0.8" stroke-opacity="1"/>
<line x1="236.50" y1="243.40" x2="236.50" y2="242.70" stroke="#303040" stroke-width="0.8" stroke-opacity="0.45"/>
<line x1="235.30" y1="242.00" x2="237.70" y2="242.00" stroke="#939393" stroke-width="0.8" stroke-opacity="1"/>
<line x1="240.25" y1="255.80" x2="240.25" y2="255.00" stroke="#939393" stroke-width="0.8" stroke-opacity="1"/>
<line x1="240.25" y1="256.60" x2="240.25" y2="255.80" stroke="#303040" stroke-width="0.8" stroke-opacity="0.45"/>
<line x1="239.05" y1="255.00" x2="241.45" y2="255.00" stroke="#939393" stroke-width="0.8" stroke-opacity="1"/>
<line x1="244.00" y1="262.90" x2="244.00" y2="262.20" stroke="#939393" stroke-width="0.8" stroke-opacity="1"/>
<line x1="244.00" y1="263.60" x2="244.00" y2="262.90" stroke="#303040" stroke-width="0.8" stroke-opacity="0.45"/>
<line x1="242.80" y1="262.20" x2="245.20" y2="262.20" stroke="#939393" stroke-width="0.8" stroke-opacity="1"/>
<rect x="252.69" y="179.60" width="3.10" height="89.80" fill="#4A71B0"/>
<rect x="256.44" y="228.30" width="3.10" height="41.10" fill="#BA4F4A"/>
<rect x="260.19" y="244.90" width="3.10" height="24.50" fill="#97B657"/>
<rect x="263.94" y="253.40" width="3.10" height="16.00" fill="#78609E"/>
<line x1="254.24" y1="179.60" x2="254.24" y2="166.30" stroke="#939393" stroke-width="0.8" stroke-opacity="1"/>
<line x1="254.24" y1="192.90" x2="254.24" y2="179.60" stroke="#303040" stroke-width="0.8" stroke-opacity="0.45"/>
<line x1="253.04" y1="166.30" x2="255.44" y2="166.30" stroke="#939393" stroke-width="0.8" stroke-opacity="1"/>
<line x1="257.99" y1="228.30" x2="257.99" y2="222.30" stroke="#939393" stroke-width="0.8" stroke-opacity="1"/>
<line x1="257.99" y1="234.30" x2="257.99" y2="228.30" stroke="#303040" stroke-width="0.8" stroke-opacity="0.45"/>
<line x1="256.79" y1="222.30" x2="259.19" y2="222.30" stroke="#939393" stroke-width="0.8" stroke-opacity="1"/>
<line x1="261.74" y1="244.90" x2="261.74" y2="243.30" stroke="#939393" stroke-width="0.8" stroke-opacity="1"/>
<line x1="261.74" y1="246.50" x2="261.74" y2="244.90" stroke="#303040" stroke-width="0.8" stroke-opacity="0.45"/>
<line x1="260.54" y1="243.30" x2="262.94" y2="243.30" stroke="#939393" stroke-width="0.8" stroke-opacity="1"/>
<line x1="265.49" y1="253.40" x2="265.49" y2="252.50" stroke="#939393" stroke-width="0.8" stroke-opacity="1"/>
<line x1="265.49" y1="254.30" x2="265.49" y2="253.40" stroke="#303040" stroke-width="0.8" stroke-opacity="0.45"/>
<line x1="264.29" y1="252.50" x2="266.69" y2="252.50" stroke="#939393" stroke-width="0.8" stroke-opacity="1"/>
<rect x="274.18" y="177.30" width="3.10" height="92.10" fill="#4A71B0"/>
<rect x="277.93" y="237.00" width="3.10" height="32.40" fill="#BA4F4A"/>
<rect x="281.68" y="250.70" width="3.10" height="18.70" fill="#97B657"/>
<rect x="285.43" y="259.00" width="3.10" height="10.40" fill="#78609E"/>
<line x1="275.73" y1="177.30" x2="275.73" y2="168.30" stroke="#939393" stroke-width="0.8" stroke-opacity="1"/>
<line x1="275.73" y1="186.30" x2="275.73" y2="177.30" stroke="#303040" stroke-width="0.8" stroke-opacity="0.45"/>
<line x1="274.53" y1="168.30" x2="276.93" y2="168.30" stroke="#939393" stroke-width="0.8" stroke-opacity="1"/>
<line x1="279.48" y1="237.00" x2="279.48" y2="233.30" stroke="#939393" stroke-width="0.8" stroke-opacity="1"/>
<line x1="279.48" y1="240.70" x2="279.48" y2="237.00" stroke="#303040" stroke-width="0.8" stroke-opacity="0.45"/>
<line x1="278.28" y1="233.30" x2="280.68" y2="233.30" stroke="#939393" stroke-width="0.8" stroke-opacity="1"/>
<line x1="283.23" y1="250.70" x2="283.23" y2="247.90" stroke="#939393" stroke-width="0.8" stroke-opacity="1"/>
<line x1="283.23" y1="253.50" x2="283.23" y2="250.70" stroke="#303040" stroke-width="0.8" stroke-opacity="0.45"/>
<line x1="282.03" y1="247.90" x2="284.43" y2="247.90" stroke="#939393" stroke-width="0.8" stroke-opacity="1"/>
<line x1="286.98" y1="259.00" x2="286.98" y2="258.20" stroke="#939393" stroke-width="0.8" stroke-opacity="1"/>
<line x1="286.98" y1="259.80" x2="286.98" y2="259.00" stroke="#303040" stroke-width="0.8" stroke-opacity="0.45"/>
<line x1="285.78" y1="258.20" x2="288.18" y2="258.20" stroke="#939393" stroke-width="0.8" stroke-opacity="1"/>
<rect x="295.67" y="182.30" width="3.10" height="87.10" fill="#4A71B0"/>
<rect x="299.42" y="237.10" width="3.10" height="32.30" fill="#BA4F4A"/>
<rect x="303.17" y="249.40" width="3.10" height="20.00" fill="#97B657"/>
<rect x="306.92" y="260.40" width="3.10" height="9.00" fill="#78609E"/>
<line x1="297.22" y1="182.30" x2="297.22" y2="181.00" stroke="#939393" stroke-width="0.8" stroke-opacity="1"/>
<line x1="297.22" y1="183.60" x2="297.22" y2="182.30" stroke="#303040" stroke-width="0.8" stroke-opacity="0.45"/>
<line x1="296.02" y1="181.00" x2="298.42" y2="181.00" stroke="#939393" stroke-width="0.8" stroke-opacity="1"/>
<line x1="300.97" y1="237.10" x2="300.97" y2="233.60" stroke="#939393" stroke-width="0.8" stroke-opacity="1"/>
<line x1="300.97" y1="240.60" x2="300.97" y2="237.10" stroke="#303040" stroke-width="0.8" stroke-opacity="0.45"/>
<line x1="299.77" y1="233.60" x2="302.17" y2="233.60" stroke="#939393" stroke-width="0.8" stroke-opacity="1"/>
<line x1="304.72" y1="249.40" x2="304.72" y2="248.50" stroke="#939393" stroke-width="0.8" stroke-opacity="1"/>
<line x1="304.72" y1="250.30" x2="304.72" y2="249.40" stroke="#303040" stroke-width="0.8" stroke-opacity="0.45"/>
<line x1="303.52" y1="248.50" x2="305.92" y2="248.50" stroke="#939393" stroke-width="0.8" stroke-opacity="1"/>
<line x1="308.47" y1="260.40" x2="308.47" y2="259.60" stroke="#939393" stroke-width="0.8" stroke-opacity="1"/>
<line x1="308.47" y1="261.20" x2="308.47" y2="260.40" stroke="#303040" stroke-width="0.8" stroke-opacity="0.45"/>
<line x1="307.27" y1="259.60" x2="309.67" y2="259.60" stroke="#939393" stroke-width="0.8" stroke-opacity="1"/>
<text x="115.90" y="272.28" font-size="5.3" text-anchor="end" fill="#7c7c7c" font-weight="normal">0</text>
<text x="115.90" y="255.50" font-size="5.3" text-anchor="end" fill="#7c7c7c" font-weight="normal">50</text>
<text x="115.90" y="238.72" font-size="5.3" text-anchor="end" fill="#7c7c7c" font-weight="normal">100</text>
<text x="115.90" y="221.94" font-size="5.3" text-anchor="end" fill="#7c7c7c" font-weight="normal">150</text>
<text x="115.90" y="205.16" font-size="5.3" text-anchor="end" fill="#7c7c7c" font-weight="normal">200</text>
<text x="115.90" y="188.38" font-size="5.3" text-anchor="end" fill="#7c7c7c" font-weight="normal">250</text>
<text x="115.90" y="171.60" font-size="5.3" text-anchor="end" fill="#7c7c7c" font-weight="normal">300</text>
<text x="115.90" y="154.82" font-size="5.3" text-anchor="end" fill="#7c7c7c" font-weight="normal">350</text>
<text x="131.25" y="279.85" font-size="5.15" text-anchor="middle" fill="#7c7c7c" font-weight="normal" textLength="19.33" lengthAdjust="spacingAndGlyphs">0°C, 0 M</text>
<text x="152.74" y="279.85" font-size="5.15" text-anchor="middle" fill="#7c7c7c" font-weight="normal" textLength="20.36" lengthAdjust="spacingAndGlyphs">0°C, 0,05</text>
<text x="152.74" y="286.85" font-size="5.15" text-anchor="middle" fill="#7c7c7c" font-weight="normal" textLength="4.79" lengthAdjust="spacingAndGlyphs">M</text>
<text x="174.23" y="279.85" font-size="5.15" text-anchor="middle" fill="#7c7c7c" font-weight="normal" textLength="17.52" lengthAdjust="spacingAndGlyphs">0°C, 0,1</text>
<text x="174.23" y="286.85" font-size="5.15" text-anchor="middle" fill="#7c7c7c" font-weight="normal" textLength="4.79" lengthAdjust="spacingAndGlyphs">M</text>
<text x="195.72" y="279.85" font-size="5.15" text-anchor="middle" fill="#7c7c7c" font-weight="normal" textLength="16.12" lengthAdjust="spacingAndGlyphs">25°C, 0</text>
<text x="195.72" y="286.85" font-size="5.15" text-anchor="middle" fill="#7c7c7c" font-weight="normal" textLength="4.79" lengthAdjust="spacingAndGlyphs">M</text>
<text x="217.21" y="279.85" font-size="5.15" text-anchor="middle" fill="#7c7c7c" font-weight="normal" textLength="12.01" lengthAdjust="spacingAndGlyphs">25°C,</text>
<text x="217.21" y="286.85" font-size="5.15" text-anchor="middle" fill="#7c7c7c" font-weight="normal" textLength="15.97" lengthAdjust="spacingAndGlyphs">0,05 M</text>
<text x="238.70" y="279.85" font-size="5.15" text-anchor="middle" fill="#7c7c7c" font-weight="normal" textLength="20.36" lengthAdjust="spacingAndGlyphs">25°C, 0,1</text>
<text x="238.70" y="286.85" font-size="5.15" text-anchor="middle" fill="#7c7c7c" font-weight="normal" textLength="4.79" lengthAdjust="spacingAndGlyphs">M</text>
<text x="260.19" y="279.85" font-size="5.15" text-anchor="middle" fill="#7c7c7c" font-weight="normal" textLength="16.12" lengthAdjust="spacingAndGlyphs">50°C, 0</text>
<text x="260.19" y="286.85" font-size="5.15" text-anchor="middle" fill="#7c7c7c" font-weight="normal" textLength="4.79" lengthAdjust="spacingAndGlyphs">M</text>
<text x="281.68" y="279.85" font-size="5.15" text-anchor="middle" fill="#7c7c7c" font-weight="normal" textLength="12.01" lengthAdjust="spacingAndGlyphs">50°C,</text>
<text x="281.68" y="286.85" font-size="5.15" text-anchor="middle" fill="#7c7c7c" font-weight="normal" textLength="15.97" lengthAdjust="spacingAndGlyphs">0,05 M</text>
<text x="303.17" y="279.85" font-size="5.15" text-anchor="middle" fill="#7c7c7c" font-weight="normal" textLength="20.36" lengthAdjust="spacingAndGlyphs">50°C, 0,1</text>
<text x="303.17" y="286.85" font-size="5.15" text-anchor="middle" fill="#7c7c7c" font-weight="normal" textLength="4.79" lengthAdjust="spacingAndGlyphs">M</text>
<text x="103.20" y="210.60" font-size="5.9" text-anchor="middle" fill="#7c7c7c" font-weight="normal" transform="rotate(-90 103.20 210.60)">Phenolic compounds (µg/mL)</text>
<rect x="108.70" y="295.50" width="3.00" height="3.00" fill="#4A71B0"/>
<text x="113.70" y="298.85" font-size="5.15" text-anchor="start" fill="#7c7c7c" font-weight="normal">First extraction</text>
<rect x="156.20" y="295.50" width="3.00" height="3.00" fill="#BA4F4A"/>
<text x="160.50" y="298.85" font-size="5.15" text-anchor="start" fill="#7c7c7c" font-weight="normal">Second extraction</text>
<rect x="210.00" y="295.50" width="3.00" height="3.00" fill="#97B657"/>
<text x="214.50" y="298.85" font-size="5.15" text-anchor="start" fill="#7c7c7c" font-weight="normal">Third extraction</text>
<rect x="258.70" y="295.50" width="3.00" height="3.00" fill="#78609E"/>
<text x="263.70" y="298.85" font-size="5.15" text-anchor="start" fill="#7c7c7c" font-weight="normal">Fourth extraction</text>
<text x="93.00" y="149.30" font-size="6.4" text-anchor="start" fill="#000" font-weight="bold" stroke="#000" stroke-width="0.35">C</text>
</svg>
</body></html>
